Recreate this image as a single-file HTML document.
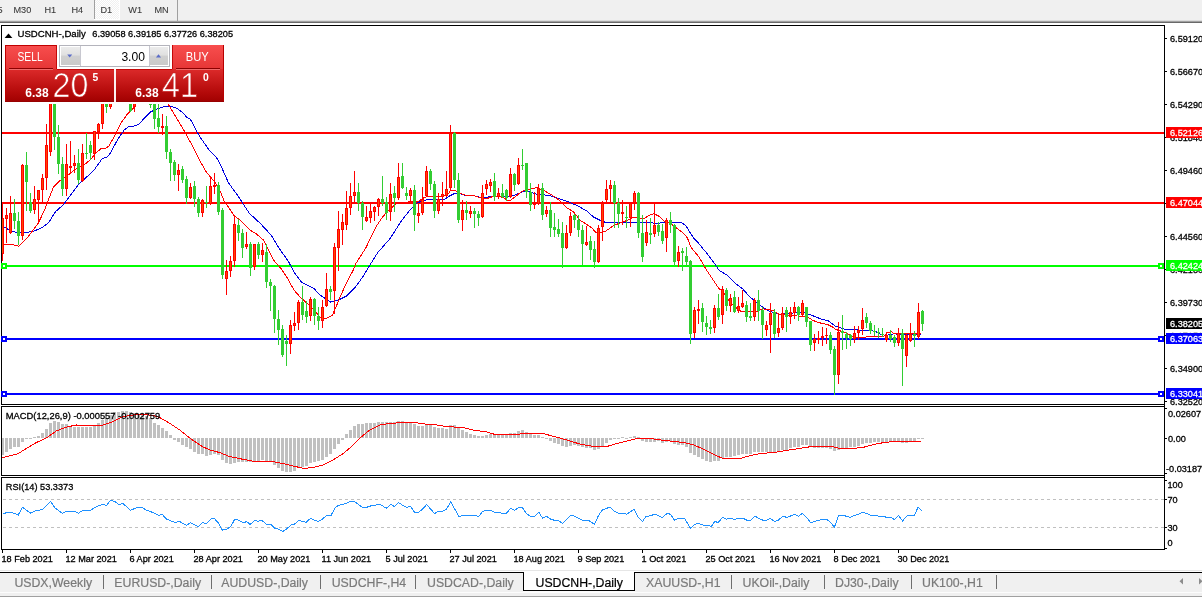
<!DOCTYPE html>
<html><head><meta charset="utf-8"><title>USDCNH-,Daily</title>
<style>
html,body{margin:0;padding:0;background:#fff;}
body{width:1202px;height:597px;overflow:hidden;}
svg{display:block;}
svg text{font-family:"Liberation Sans",sans-serif;white-space:pre;}
</style></head><body>
<svg width="1202" height="597" viewBox="0 0 1202 597" shape-rendering="crispEdges">
<rect x="0" y="0" width="1202" height="20" fill="#f0f0f0"/>
<rect x="0" y="20" width="1202" height="1" fill="#dcdcdc"/>
<rect x="0" y="21" width="1202" height="1" fill="#a0a0a0"/>
<rect x="0" y="22" width="1202" height="1" fill="#696969"/>
<defs><pattern id="ck" width="2" height="2" patternUnits="userSpaceOnUse"><rect width="2" height="2" fill="#f0f0f0"/><rect width="1" height="1" fill="#fff"/><rect x="1" y="1" width="1" height="1" fill="#fff"/></pattern></defs>
<rect x="95" y="0" width="24" height="19" fill="url(#ck)"/>
<rect x="119" y="0" width="1" height="20" fill="#fff"/>
<rect x="94" y="19" width="26" height="1" fill="#fff"/>
<rect x="94" y="0" width="1" height="19" fill="#a0a0a0"/>
<rect x="177" y="0" width="1" height="21" fill="#a0a0a0"/>
<text transform="translate(-2.5,12.8) scale(0.9355,1)" fill="#3a3a3a" font-size="9.8" stroke="#3a3a3a" stroke-width="0.1">5</text>
<text transform="translate(13.5,12.8) scale(0.9355,1)" fill="#3a3a3a" font-size="9.8" stroke="#3a3a3a" stroke-width="0.1">M30</text>
<text transform="translate(44.5,12.8) scale(0.9355,1)" fill="#3a3a3a" font-size="9.8" stroke="#3a3a3a" stroke-width="0.1">H1</text>
<text transform="translate(71.5,12.8) scale(0.9355,1)" fill="#3a3a3a" font-size="9.8" stroke="#3a3a3a" stroke-width="0.1">H4</text>
<text transform="translate(100.5,12.8) scale(0.9355,1)" fill="#3a3a3a" font-size="9.8" stroke="#3a3a3a" stroke-width="0.1">D1</text>
<text transform="translate(128.3,12.8) scale(0.9355,1)" fill="#3a3a3a" font-size="9.8" stroke="#3a3a3a" stroke-width="0.1">W1</text>
<text transform="translate(154.5,12.8) scale(0.9355,1)" fill="#3a3a3a" font-size="9.8" stroke="#3a3a3a" stroke-width="0.1">MN</text>
<defs><clipPath id="cm"><rect x="2" y="26" width="1162" height="378"/></clipPath><clipPath id="c2"><rect x="2" y="407" width="1162" height="68"/></clipPath><clipPath id="c3"><rect x="2" y="478" width="1162" height="71"/></clipPath><linearGradient id="g1" x1="0" y1="0" x2="0" y2="1"><stop offset="0" stop-color="#f84e4e"/><stop offset="1" stop-color="#e63636"/></linearGradient><linearGradient id="g2" x1="0" y1="0" x2="0" y2="1"><stop offset="0" stop-color="#dc2a2a"/><stop offset="0.7" stop-color="#b40a0a"/><stop offset="1" stop-color="#a00000"/></linearGradient><linearGradient id="g3" x1="0" y1="0" x2="0" y2="1"><stop offset="0" stop-color="#ececec"/><stop offset="0.45" stop-color="#e0e0e0"/><stop offset="0.5" stop-color="#d0d0d0"/><stop offset="1" stop-color="#cacaca"/></linearGradient></defs>
<g clip-path="url(#cm)">
<rect x="2" y="132" width="1162" height="2" fill="#ff0000"/>
<rect x="2" y="202" width="1162" height="2" fill="#ff0000"/>
<rect x="2" y="265" width="1162" height="2" fill="#00ff00"/>
<rect x="2" y="338" width="1162" height="2" fill="#0000ff"/>
<rect x="2" y="393" width="1162" height="2" fill="#0000ff"/>
<polyline points="2.5,226.2 8.4,229.5 15.1,232.0 23.5,232.9 33.5,231.2 41.9,227.8 48.6,222.8 55.3,211.9 63.7,204.4 70.4,195.2 78.7,184.3 88.8,175.1 93.8,170.4 102.2,158.6 107.2,157.0 110.6,152.8 117.3,140.2 124.0,130.2 129.0,126.5 134.0,126.0 138.9,124.2 144.7,117.8 150.6,112.0 155.2,109.6 159.9,107.9 164.5,106.4 171.5,106.4 177.4,108.5 183.2,113.1 186.7,117.2 190.2,119.0 192.5,123.0 196.6,131.2 200.0,137.0 209.1,150.0 216.2,157.0 220.2,164.1 224.2,173.1 228.2,182.2 232.3,188.2 238.3,196.2 243.3,204.3 249.5,213.5 260.4,223.5 271.2,235.2 278.8,247.8 288.8,262.0 293.9,272.1 301.4,282.1 314.0,288.4 319.0,294.3 325.7,298.8 330.7,302.2 338.2,300.2 346.6,296.0 355.0,287.6 362.5,277.3 369.2,266.2 377.6,252.8 390.0,238.6 402.0,220.0 410.4,209.6 417.1,202.9 423.8,200.4 430.5,199.2 443.9,199.6 450.6,195.4 454.0,193.7 460.7,193.7 465.7,195.4 474.1,195.9 480.8,197.4 485.8,197.6 489.1,196.7 497.5,196.2 505.9,196.7 514.2,195.4 522.6,191.7 525.0,190.8 530.0,191.9 536.8,194.4 548.5,195.3 558.5,198.6 568.6,202.0 578.6,206.2 587.0,211.2 593.7,217.1 600.4,220.4 605.4,222.4 620.5,222.4 637.3,222.1 650.7,222.1 654.0,223.2 664.1,222.9 670.8,222.1 680.8,222.4 685.8,225.4 689.2,231.3 694.2,238.8 697.3,241.8 705.6,251.8 714.0,262.7 719.0,270.3 727.4,275.3 735.8,283.7 742.5,288.7 749.2,296.2 755.9,302.1 762.6,307.1 769.3,311.3 776.0,313.0 778.8,314.7 787.2,313.5 797.3,312.7 805.6,313.0 812.3,315.5 820.7,318.9 828.5,321.0 835.2,326.0 845.2,329.4 853.6,329.9 868.7,330.2 875.4,331.5 882.1,334.9 887.1,335.2 893.8,333.9 903.9,334.4 915.6,334.9 921.4,333.9" fill="none" stroke="#0000e0" stroke-width="1"/>
<polyline points="2.5,244.6 16.8,245.1 18.4,246.6 28.5,236.2 38.5,222.8 44.4,210.3 48.6,199.4 53.6,186.8 59.5,180.9 67.0,176.0 75.4,169.2 83.8,165.3 90.5,159.5 95.5,153.6 100.5,149.0 105.5,148.6 108.9,146.0 115.6,134.3 120.6,123.4 127.3,114.2 134.0,107.5 135.7,104.2 142.0,98.0 150.0,95.0 160.0,97.0 168.3,104.2 184.3,131.0 194.6,150.0 200.1,161.1 206.1,171.6 210.2,176.6 215.2,182.7 220.2,191.2 224.2,201.3 229.2,208.3 234.4,216.0 240.3,220.2 250.3,230.2 257.0,234.4 263.7,240.3 268.7,250.3 273.8,260.4 280.5,267.9 287.2,277.7 293.9,290.0 300.6,297.6 307.3,303.5 314.0,310.2 320.7,317.7 325.7,318.6 332.4,315.2 337.4,303.5 342.4,291.8 347.5,280.9 353.3,270.0 355.8,263.7 365.9,247.8 375.9,226.9 382.6,216.8 388.6,210.5 397.0,202.9 407.0,202.1 418.8,201.2 423.8,197.9 428.8,196.2 438.9,196.2 447.3,195.4 450.6,190.4 454.0,190.0 459.0,192.9 465.7,195.4 474.1,195.7 480.8,197.9 486.6,198.7 490.8,197.1 497.5,196.2 504.2,197.9 507.5,200.7 510.9,200.1 515.9,196.2 521.0,192.0 526.0,189.5 530.0,189.0 536.8,187.7 545.1,191.1 553.5,196.1 560.2,201.1 566.9,207.8 573.6,212.0 580.3,220.4 587.0,224.6 592.0,227.9 595.4,232.1 600.4,233.0 605.4,231.3 613.8,225.4 620.5,222.9 627.2,220.4 633.9,217.0 638.9,217.9 644.0,218.7 649.0,215.4 654.0,213.7 659.0,216.2 664.1,221.2 670.8,223.8 677.5,228.8 683.3,233.0 687.5,238.0 690.6,246.8 698.9,256.9 705.6,268.6 712.3,278.6 719.0,288.7 722.4,290.4 727.4,298.7 734.1,306.3 740.8,311.3 747.5,311.3 757.6,311.3 762.6,308.8 769.3,309.6 773.8,311.0 778.8,314.3 787.2,315.2 797.3,316.0 807.3,316.5 812.3,320.2 819.0,322.7 827.4,324.4 832.4,326.9 835.8,329.4 840.8,331.1 847.5,333.6 854.2,337.0 859.2,337.8 864.5,337.7 868.7,336.1 883.8,336.1 887.1,332.7 892.1,331.9 893.8,333.6 903.9,333.9 917.3,333.9 921.4,333.6" fill="none" stroke="#ff0000" stroke-width="1"/>
<rect x="2" y="203" width="1" height="58" fill="#ff0000"/>
<rect x="1" y="218" width="3" height="36" fill="#ff0000"/>
<rect x="2" y="219" width="1" height="34" fill="#ff4500"/>
<rect x="6" y="208" width="1" height="35" fill="#ff0000"/>
<rect x="5" y="215" width="3" height="4" fill="#ff0000"/>
<rect x="6" y="216" width="1" height="2" fill="#ff4500"/>
<rect x="10" y="196" width="1" height="38" fill="#ff0000"/>
<rect x="9" y="213" width="3" height="20" fill="#ff0000"/>
<rect x="10" y="214" width="1" height="18" fill="#ff4500"/>
<rect x="14" y="199" width="1" height="30" fill="#32cd32"/>
<rect x="13" y="213" width="3" height="8" fill="#32cd32"/>
<rect x="18" y="212" width="1" height="33" fill="#32cd32"/>
<rect x="17" y="221" width="3" height="15" fill="#32cd32"/>
<rect x="22" y="164" width="1" height="76" fill="#ff0000"/>
<rect x="21" y="165" width="3" height="71" fill="#ff0000"/>
<rect x="22" y="166" width="1" height="69" fill="#ff4500"/>
<rect x="26" y="152" width="1" height="59" fill="#32cd32"/>
<rect x="25" y="165" width="3" height="17" fill="#32cd32"/>
<rect x="30" y="193" width="1" height="20" fill="#32cd32"/>
<rect x="29" y="202" width="3" height="9" fill="#32cd32"/>
<rect x="34" y="186" width="1" height="28" fill="#ff0000"/>
<rect x="33" y="199" width="3" height="11" fill="#ff0000"/>
<rect x="34" y="200" width="1" height="9" fill="#ff4500"/>
<rect x="38" y="190" width="1" height="32" fill="#ff0000"/>
<rect x="37" y="190" width="3" height="10" fill="#ff0000"/>
<rect x="38" y="191" width="1" height="8" fill="#ff4500"/>
<rect x="42" y="174" width="1" height="30" fill="#ff0000"/>
<rect x="41" y="178" width="3" height="12" fill="#ff0000"/>
<rect x="42" y="179" width="1" height="10" fill="#ff4500"/>
<rect x="46" y="124" width="1" height="66" fill="#ff0000"/>
<rect x="45" y="145" width="3" height="33" fill="#ff0000"/>
<rect x="46" y="146" width="1" height="31" fill="#ff4500"/>
<rect x="50" y="85" width="1" height="71" fill="#ff0000"/>
<rect x="49" y="90" width="3" height="62" fill="#ff0000"/>
<rect x="50" y="91" width="1" height="60" fill="#ff4500"/>
<rect x="54" y="85" width="1" height="65" fill="#32cd32"/>
<rect x="53" y="90" width="3" height="47" fill="#32cd32"/>
<rect x="58" y="125" width="1" height="49" fill="#32cd32"/>
<rect x="57" y="137" width="3" height="27" fill="#32cd32"/>
<rect x="62" y="157" width="1" height="39" fill="#32cd32"/>
<rect x="61" y="164" width="3" height="25" fill="#32cd32"/>
<rect x="66" y="144" width="1" height="52" fill="#ff0000"/>
<rect x="65" y="164" width="3" height="25" fill="#ff0000"/>
<rect x="66" y="165" width="1" height="23" fill="#ff4500"/>
<rect x="70" y="141" width="1" height="32" fill="#ff0000"/>
<rect x="69" y="166" width="3" height="2" fill="#ff0000"/>
<rect x="74" y="155" width="1" height="18" fill="#ff0000"/>
<rect x="73" y="163" width="3" height="3" fill="#ff0000"/>
<rect x="74" y="164" width="1" height="1" fill="#ff4500"/>
<rect x="78" y="149" width="1" height="35" fill="#32cd32"/>
<rect x="77" y="163" width="3" height="17" fill="#32cd32"/>
<rect x="82" y="144" width="1" height="38" fill="#ff0000"/>
<rect x="81" y="153" width="3" height="28" fill="#ff0000"/>
<rect x="82" y="154" width="1" height="26" fill="#ff4500"/>
<rect x="86" y="133" width="1" height="26" fill="#32cd32"/>
<rect x="85" y="153" width="3" height="1" fill="#32cd32"/>
<rect x="90" y="141" width="1" height="19" fill="#32cd32"/>
<rect x="89" y="145" width="3" height="8" fill="#32cd32"/>
<rect x="94" y="131" width="1" height="29" fill="#ff0000"/>
<rect x="93" y="131" width="3" height="23" fill="#ff0000"/>
<rect x="94" y="132" width="1" height="21" fill="#ff4500"/>
<rect x="98" y="123" width="1" height="16" fill="#ff0000"/>
<rect x="97" y="124" width="3" height="8" fill="#ff0000"/>
<rect x="98" y="125" width="1" height="6" fill="#ff4500"/>
<rect x="102" y="95" width="1" height="34" fill="#ff0000"/>
<rect x="101" y="98" width="3" height="26" fill="#ff0000"/>
<rect x="102" y="99" width="1" height="24" fill="#ff4500"/>
<rect x="106" y="90" width="1" height="23" fill="#32cd32"/>
<rect x="105" y="98" width="3" height="9" fill="#32cd32"/>
<rect x="110" y="95" width="1" height="14" fill="#ff0000"/>
<rect x="109" y="100" width="3" height="7" fill="#ff0000"/>
<rect x="110" y="101" width="1" height="5" fill="#ff4500"/>
<rect x="114" y="80" width="1" height="20" fill="#ff0000"/>
<rect x="113" y="85" width="3" height="13" fill="#ff0000"/>
<rect x="114" y="86" width="1" height="11" fill="#ff4500"/>
<rect x="118" y="78" width="1" height="21" fill="#32cd32"/>
<rect x="117" y="82" width="3" height="13" fill="#32cd32"/>
<rect x="122" y="75" width="1" height="22" fill="#ff0000"/>
<rect x="121" y="80" width="3" height="12" fill="#ff0000"/>
<rect x="122" y="81" width="1" height="10" fill="#ff4500"/>
<rect x="126" y="76" width="1" height="23" fill="#32cd32"/>
<rect x="125" y="80" width="3" height="14" fill="#32cd32"/>
<rect x="130" y="80" width="1" height="32" fill="#32cd32"/>
<rect x="129" y="85" width="3" height="26" fill="#32cd32"/>
<rect x="134" y="90" width="1" height="22" fill="#ff0000"/>
<rect x="133" y="95" width="3" height="12" fill="#ff0000"/>
<rect x="134" y="96" width="1" height="10" fill="#ff4500"/>
<rect x="138" y="82" width="1" height="18" fill="#32cd32"/>
<rect x="137" y="88" width="3" height="9" fill="#32cd32"/>
<rect x="142" y="80" width="1" height="19" fill="#ff0000"/>
<rect x="141" y="84" width="3" height="11" fill="#ff0000"/>
<rect x="142" y="85" width="1" height="9" fill="#ff4500"/>
<rect x="146" y="80" width="1" height="20" fill="#32cd32"/>
<rect x="145" y="86" width="3" height="12" fill="#32cd32"/>
<rect x="150" y="95" width="1" height="13" fill="#32cd32"/>
<rect x="149" y="103" width="3" height="2" fill="#32cd32"/>
<rect x="154" y="90" width="1" height="39" fill="#32cd32"/>
<rect x="153" y="95" width="3" height="24" fill="#32cd32"/>
<rect x="158" y="104" width="1" height="29" fill="#32cd32"/>
<rect x="157" y="118" width="3" height="9" fill="#32cd32"/>
<rect x="162" y="114" width="1" height="21" fill="#ff0000"/>
<rect x="161" y="126" width="3" height="2" fill="#ff0000"/>
<rect x="166" y="116" width="1" height="43" fill="#32cd32"/>
<rect x="165" y="126" width="3" height="26" fill="#32cd32"/>
<rect x="170" y="149" width="1" height="32" fill="#32cd32"/>
<rect x="169" y="152" width="3" height="11" fill="#32cd32"/>
<rect x="174" y="160" width="1" height="21" fill="#32cd32"/>
<rect x="173" y="162" width="3" height="13" fill="#32cd32"/>
<rect x="178" y="164" width="1" height="27" fill="#ff0000"/>
<rect x="177" y="170" width="3" height="5" fill="#ff0000"/>
<rect x="178" y="171" width="1" height="3" fill="#ff4500"/>
<rect x="182" y="166" width="1" height="17" fill="#32cd32"/>
<rect x="181" y="169" width="3" height="11" fill="#32cd32"/>
<rect x="186" y="176" width="1" height="28" fill="#32cd32"/>
<rect x="185" y="179" width="3" height="19" fill="#32cd32"/>
<rect x="190" y="183" width="1" height="16" fill="#ff0000"/>
<rect x="189" y="187" width="3" height="11" fill="#ff0000"/>
<rect x="190" y="188" width="1" height="9" fill="#ff4500"/>
<rect x="194" y="181" width="1" height="26" fill="#32cd32"/>
<rect x="193" y="186" width="3" height="13" fill="#32cd32"/>
<rect x="198" y="197" width="1" height="20" fill="#32cd32"/>
<rect x="197" y="199" width="3" height="14" fill="#32cd32"/>
<rect x="202" y="199" width="1" height="18" fill="#ff0000"/>
<rect x="201" y="200" width="3" height="13" fill="#ff0000"/>
<rect x="202" y="201" width="1" height="11" fill="#ff4500"/>
<rect x="206" y="186" width="1" height="22" fill="#32cd32"/>
<rect x="205" y="202" width="3" height="1" fill="#32cd32"/>
<rect x="210" y="176" width="1" height="29" fill="#ff0000"/>
<rect x="209" y="186" width="3" height="18" fill="#ff0000"/>
<rect x="210" y="187" width="1" height="16" fill="#ff4500"/>
<rect x="214" y="173" width="1" height="21" fill="#ff0000"/>
<rect x="213" y="185" width="3" height="2" fill="#ff0000"/>
<rect x="218" y="182" width="1" height="33" fill="#32cd32"/>
<rect x="217" y="185" width="3" height="27" fill="#32cd32"/>
<rect x="222" y="208" width="1" height="71" fill="#32cd32"/>
<rect x="221" y="210" width="3" height="65" fill="#32cd32"/>
<rect x="226" y="260" width="1" height="35" fill="#ff0000"/>
<rect x="225" y="271" width="3" height="8" fill="#ff0000"/>
<rect x="226" y="272" width="1" height="6" fill="#ff4500"/>
<rect x="230" y="256" width="1" height="21" fill="#ff0000"/>
<rect x="229" y="261" width="3" height="10" fill="#ff0000"/>
<rect x="230" y="262" width="1" height="8" fill="#ff4500"/>
<rect x="234" y="216" width="1" height="51" fill="#ff0000"/>
<rect x="233" y="224" width="3" height="37" fill="#ff0000"/>
<rect x="234" y="225" width="1" height="35" fill="#ff4500"/>
<rect x="238" y="219" width="1" height="22" fill="#32cd32"/>
<rect x="237" y="225" width="3" height="8" fill="#32cd32"/>
<rect x="242" y="229" width="1" height="29" fill="#32cd32"/>
<rect x="241" y="233" width="3" height="15" fill="#32cd32"/>
<rect x="246" y="232" width="1" height="17" fill="#ff0000"/>
<rect x="245" y="244" width="3" height="3" fill="#ff0000"/>
<rect x="246" y="245" width="1" height="1" fill="#ff4500"/>
<rect x="250" y="242" width="1" height="34" fill="#32cd32"/>
<rect x="249" y="244" width="3" height="24" fill="#32cd32"/>
<rect x="254" y="244" width="1" height="26" fill="#ff0000"/>
<rect x="253" y="244" width="3" height="23" fill="#ff0000"/>
<rect x="254" y="245" width="1" height="21" fill="#ff4500"/>
<rect x="258" y="242" width="1" height="17" fill="#32cd32"/>
<rect x="257" y="244" width="3" height="11" fill="#32cd32"/>
<rect x="262" y="243" width="1" height="19" fill="#ff0000"/>
<rect x="261" y="250" width="3" height="5" fill="#ff0000"/>
<rect x="262" y="251" width="1" height="3" fill="#ff4500"/>
<rect x="266" y="244" width="1" height="44" fill="#32cd32"/>
<rect x="265" y="252" width="3" height="30" fill="#32cd32"/>
<rect x="270" y="279" width="1" height="32" fill="#32cd32"/>
<rect x="269" y="282" width="3" height="4" fill="#32cd32"/>
<rect x="274" y="285" width="1" height="48" fill="#32cd32"/>
<rect x="273" y="286" width="3" height="33" fill="#32cd32"/>
<rect x="278" y="310" width="1" height="35" fill="#32cd32"/>
<rect x="277" y="319" width="3" height="11" fill="#32cd32"/>
<rect x="282" y="325" width="1" height="32" fill="#32cd32"/>
<rect x="281" y="329" width="3" height="26" fill="#32cd32"/>
<rect x="286" y="335" width="1" height="31" fill="#32cd32"/>
<rect x="285" y="341" width="3" height="3" fill="#32cd32"/>
<rect x="290" y="320" width="1" height="34" fill="#ff0000"/>
<rect x="289" y="325" width="3" height="19" fill="#ff0000"/>
<rect x="290" y="326" width="1" height="17" fill="#ff4500"/>
<rect x="294" y="312" width="1" height="19" fill="#ff0000"/>
<rect x="293" y="323" width="3" height="3" fill="#ff0000"/>
<rect x="294" y="324" width="1" height="1" fill="#ff4500"/>
<rect x="298" y="300" width="1" height="30" fill="#ff0000"/>
<rect x="297" y="302" width="3" height="21" fill="#ff0000"/>
<rect x="298" y="303" width="1" height="19" fill="#ff4500"/>
<rect x="302" y="286" width="1" height="34" fill="#32cd32"/>
<rect x="301" y="302" width="3" height="13" fill="#32cd32"/>
<rect x="306" y="301" width="1" height="22" fill="#32cd32"/>
<rect x="305" y="311" width="3" height="6" fill="#32cd32"/>
<rect x="310" y="297" width="1" height="24" fill="#ff0000"/>
<rect x="309" y="299" width="3" height="17" fill="#ff0000"/>
<rect x="310" y="300" width="1" height="15" fill="#ff4500"/>
<rect x="314" y="298" width="1" height="27" fill="#32cd32"/>
<rect x="313" y="299" width="3" height="17" fill="#32cd32"/>
<rect x="318" y="307" width="1" height="23" fill="#32cd32"/>
<rect x="317" y="316" width="3" height="5" fill="#32cd32"/>
<rect x="322" y="300" width="1" height="28" fill="#ff0000"/>
<rect x="321" y="307" width="3" height="14" fill="#ff0000"/>
<rect x="322" y="308" width="1" height="12" fill="#ff4500"/>
<rect x="326" y="273" width="1" height="34" fill="#ff0000"/>
<rect x="325" y="289" width="3" height="17" fill="#ff0000"/>
<rect x="326" y="290" width="1" height="15" fill="#ff4500"/>
<rect x="330" y="286" width="1" height="14" fill="#32cd32"/>
<rect x="329" y="289" width="3" height="3" fill="#32cd32"/>
<rect x="334" y="243" width="1" height="71" fill="#ff0000"/>
<rect x="333" y="247" width="3" height="44" fill="#ff0000"/>
<rect x="334" y="248" width="1" height="42" fill="#ff4500"/>
<rect x="338" y="211" width="1" height="60" fill="#ff0000"/>
<rect x="337" y="229" width="3" height="19" fill="#ff0000"/>
<rect x="338" y="230" width="1" height="17" fill="#ff4500"/>
<rect x="342" y="214" width="1" height="31" fill="#ff0000"/>
<rect x="341" y="222" width="3" height="8" fill="#ff0000"/>
<rect x="342" y="223" width="1" height="6" fill="#ff4500"/>
<rect x="346" y="191" width="1" height="39" fill="#ff0000"/>
<rect x="345" y="208" width="3" height="17" fill="#ff0000"/>
<rect x="346" y="209" width="1" height="15" fill="#ff4500"/>
<rect x="350" y="183" width="1" height="32" fill="#ff0000"/>
<rect x="349" y="196" width="3" height="12" fill="#ff0000"/>
<rect x="350" y="197" width="1" height="10" fill="#ff4500"/>
<rect x="354" y="171" width="1" height="32" fill="#ff0000"/>
<rect x="353" y="192" width="3" height="4" fill="#ff0000"/>
<rect x="354" y="193" width="1" height="2" fill="#ff4500"/>
<rect x="358" y="183" width="1" height="28" fill="#32cd32"/>
<rect x="357" y="192" width="3" height="11" fill="#32cd32"/>
<rect x="362" y="201" width="1" height="29" fill="#32cd32"/>
<rect x="361" y="203" width="3" height="14" fill="#32cd32"/>
<rect x="366" y="206" width="1" height="16" fill="#ff0000"/>
<rect x="365" y="217" width="3" height="4" fill="#ff0000"/>
<rect x="366" y="218" width="1" height="2" fill="#ff4500"/>
<rect x="370" y="204" width="1" height="19" fill="#ff0000"/>
<rect x="369" y="211" width="3" height="7" fill="#ff0000"/>
<rect x="370" y="212" width="1" height="5" fill="#ff4500"/>
<rect x="374" y="206" width="1" height="15" fill="#ff0000"/>
<rect x="373" y="207" width="3" height="5" fill="#ff0000"/>
<rect x="374" y="208" width="1" height="3" fill="#ff4500"/>
<rect x="378" y="198" width="1" height="18" fill="#ff0000"/>
<rect x="377" y="199" width="3" height="8" fill="#ff0000"/>
<rect x="378" y="200" width="1" height="6" fill="#ff4500"/>
<rect x="382" y="176" width="1" height="30" fill="#32cd32"/>
<rect x="381" y="199" width="3" height="4" fill="#32cd32"/>
<rect x="386" y="197" width="1" height="23" fill="#32cd32"/>
<rect x="385" y="202" width="3" height="11" fill="#32cd32"/>
<rect x="390" y="183" width="1" height="38" fill="#ff0000"/>
<rect x="389" y="194" width="3" height="18" fill="#ff0000"/>
<rect x="390" y="195" width="1" height="16" fill="#ff4500"/>
<rect x="394" y="186" width="1" height="26" fill="#32cd32"/>
<rect x="393" y="193" width="3" height="5" fill="#32cd32"/>
<rect x="398" y="163" width="1" height="37" fill="#ff0000"/>
<rect x="397" y="177" width="3" height="21" fill="#ff0000"/>
<rect x="398" y="178" width="1" height="19" fill="#ff4500"/>
<rect x="402" y="163" width="1" height="26" fill="#32cd32"/>
<rect x="401" y="176" width="3" height="12" fill="#32cd32"/>
<rect x="406" y="187" width="1" height="13" fill="#32cd32"/>
<rect x="405" y="193" width="3" height="3" fill="#32cd32"/>
<rect x="410" y="188" width="1" height="16" fill="#ff0000"/>
<rect x="409" y="190" width="3" height="6" fill="#ff0000"/>
<rect x="410" y="191" width="1" height="4" fill="#ff4500"/>
<rect x="414" y="185" width="1" height="46" fill="#32cd32"/>
<rect x="413" y="190" width="3" height="25" fill="#32cd32"/>
<rect x="418" y="204" width="1" height="19" fill="#ff0000"/>
<rect x="417" y="213" width="3" height="3" fill="#ff0000"/>
<rect x="418" y="214" width="1" height="1" fill="#ff4500"/>
<rect x="422" y="187" width="1" height="28" fill="#ff0000"/>
<rect x="421" y="199" width="3" height="14" fill="#ff0000"/>
<rect x="422" y="200" width="1" height="12" fill="#ff4500"/>
<rect x="426" y="166" width="1" height="31" fill="#ff0000"/>
<rect x="425" y="171" width="3" height="25" fill="#ff0000"/>
<rect x="426" y="172" width="1" height="23" fill="#ff4500"/>
<rect x="430" y="169" width="1" height="21" fill="#32cd32"/>
<rect x="429" y="171" width="3" height="13" fill="#32cd32"/>
<rect x="434" y="181" width="1" height="37" fill="#32cd32"/>
<rect x="433" y="184" width="3" height="27" fill="#32cd32"/>
<rect x="438" y="193" width="1" height="21" fill="#ff0000"/>
<rect x="437" y="199" width="3" height="12" fill="#ff0000"/>
<rect x="438" y="200" width="1" height="10" fill="#ff4500"/>
<rect x="442" y="182" width="1" height="24" fill="#ff0000"/>
<rect x="441" y="194" width="3" height="3" fill="#ff0000"/>
<rect x="442" y="195" width="1" height="1" fill="#ff4500"/>
<rect x="446" y="171" width="1" height="26" fill="#ff0000"/>
<rect x="445" y="189" width="3" height="7" fill="#ff0000"/>
<rect x="446" y="190" width="1" height="5" fill="#ff4500"/>
<rect x="450" y="125" width="1" height="65" fill="#ff0000"/>
<rect x="449" y="133" width="3" height="55" fill="#ff0000"/>
<rect x="450" y="134" width="1" height="53" fill="#ff4500"/>
<rect x="454" y="132" width="1" height="56" fill="#32cd32"/>
<rect x="453" y="133" width="3" height="47" fill="#32cd32"/>
<rect x="458" y="173" width="1" height="50" fill="#32cd32"/>
<rect x="457" y="180" width="3" height="40" fill="#32cd32"/>
<rect x="462" y="200" width="1" height="31" fill="#ff0000"/>
<rect x="461" y="210" width="3" height="10" fill="#ff0000"/>
<rect x="462" y="211" width="1" height="8" fill="#ff4500"/>
<rect x="466" y="201" width="1" height="19" fill="#32cd32"/>
<rect x="465" y="210" width="3" height="3" fill="#32cd32"/>
<rect x="470" y="206" width="1" height="12" fill="#ff0000"/>
<rect x="469" y="211" width="3" height="3" fill="#ff0000"/>
<rect x="470" y="212" width="1" height="1" fill="#ff4500"/>
<rect x="474" y="208" width="1" height="20" fill="#32cd32"/>
<rect x="473" y="211" width="3" height="3" fill="#32cd32"/>
<rect x="478" y="211" width="1" height="15" fill="#32cd32"/>
<rect x="477" y="214" width="3" height="4" fill="#32cd32"/>
<rect x="482" y="185" width="1" height="33" fill="#ff0000"/>
<rect x="481" y="193" width="3" height="24" fill="#ff0000"/>
<rect x="482" y="194" width="1" height="22" fill="#ff4500"/>
<rect x="486" y="180" width="1" height="15" fill="#ff0000"/>
<rect x="485" y="184" width="3" height="5" fill="#ff0000"/>
<rect x="486" y="185" width="1" height="3" fill="#ff4500"/>
<rect x="490" y="179" width="1" height="13" fill="#ff0000"/>
<rect x="489" y="182" width="3" height="4" fill="#ff0000"/>
<rect x="490" y="183" width="1" height="2" fill="#ff4500"/>
<rect x="494" y="173" width="1" height="28" fill="#32cd32"/>
<rect x="493" y="181" width="3" height="16" fill="#32cd32"/>
<rect x="498" y="188" width="1" height="11" fill="#ff0000"/>
<rect x="497" y="193" width="3" height="4" fill="#ff0000"/>
<rect x="498" y="194" width="1" height="2" fill="#ff4500"/>
<rect x="502" y="184" width="1" height="14" fill="#32cd32"/>
<rect x="501" y="193" width="3" height="4" fill="#32cd32"/>
<rect x="506" y="189" width="1" height="12" fill="#32cd32"/>
<rect x="505" y="190" width="3" height="8" fill="#32cd32"/>
<rect x="510" y="168" width="1" height="30" fill="#ff0000"/>
<rect x="509" y="174" width="3" height="23" fill="#ff0000"/>
<rect x="510" y="175" width="1" height="21" fill="#ff4500"/>
<rect x="514" y="173" width="1" height="18" fill="#32cd32"/>
<rect x="513" y="174" width="3" height="11" fill="#32cd32"/>
<rect x="518" y="158" width="1" height="27" fill="#ff0000"/>
<rect x="517" y="165" width="3" height="19" fill="#ff0000"/>
<rect x="518" y="166" width="1" height="17" fill="#ff4500"/>
<rect x="522" y="149" width="1" height="21" fill="#32cd32"/>
<rect x="521" y="165" width="3" height="1" fill="#32cd32"/>
<rect x="526" y="163" width="1" height="35" fill="#32cd32"/>
<rect x="525" y="163" width="3" height="29" fill="#32cd32"/>
<rect x="530" y="183" width="1" height="28" fill="#32cd32"/>
<rect x="529" y="192" width="3" height="13" fill="#32cd32"/>
<rect x="534" y="192" width="1" height="17" fill="#ff0000"/>
<rect x="533" y="203" width="3" height="2" fill="#ff0000"/>
<rect x="538" y="184" width="1" height="21" fill="#ff0000"/>
<rect x="537" y="188" width="3" height="16" fill="#ff0000"/>
<rect x="538" y="189" width="1" height="14" fill="#ff4500"/>
<rect x="542" y="183" width="1" height="37" fill="#32cd32"/>
<rect x="541" y="188" width="3" height="27" fill="#32cd32"/>
<rect x="546" y="206" width="1" height="11" fill="#ff0000"/>
<rect x="545" y="210" width="3" height="4" fill="#ff0000"/>
<rect x="546" y="211" width="1" height="2" fill="#ff4500"/>
<rect x="550" y="202" width="1" height="35" fill="#32cd32"/>
<rect x="549" y="210" width="3" height="18" fill="#32cd32"/>
<rect x="554" y="213" width="1" height="24" fill="#32cd32"/>
<rect x="553" y="227" width="3" height="3" fill="#32cd32"/>
<rect x="558" y="219" width="1" height="18" fill="#32cd32"/>
<rect x="557" y="229" width="3" height="5" fill="#32cd32"/>
<rect x="562" y="222" width="1" height="46" fill="#32cd32"/>
<rect x="561" y="233" width="3" height="15" fill="#32cd32"/>
<rect x="566" y="225" width="1" height="24" fill="#ff0000"/>
<rect x="565" y="233" width="3" height="15" fill="#ff0000"/>
<rect x="566" y="234" width="1" height="13" fill="#ff4500"/>
<rect x="570" y="212" width="1" height="24" fill="#ff0000"/>
<rect x="569" y="216" width="3" height="17" fill="#ff0000"/>
<rect x="570" y="217" width="1" height="15" fill="#ff4500"/>
<rect x="574" y="214" width="1" height="14" fill="#32cd32"/>
<rect x="573" y="215" width="3" height="5" fill="#32cd32"/>
<rect x="578" y="215" width="1" height="22" fill="#32cd32"/>
<rect x="577" y="220" width="3" height="10" fill="#32cd32"/>
<rect x="582" y="225" width="1" height="40" fill="#32cd32"/>
<rect x="581" y="230" width="3" height="14" fill="#32cd32"/>
<rect x="586" y="226" width="1" height="20" fill="#ff0000"/>
<rect x="585" y="242" width="3" height="3" fill="#ff0000"/>
<rect x="586" y="243" width="1" height="1" fill="#ff4500"/>
<rect x="590" y="236" width="1" height="24" fill="#32cd32"/>
<rect x="589" y="241" width="3" height="9" fill="#32cd32"/>
<rect x="594" y="241" width="1" height="27" fill="#32cd32"/>
<rect x="593" y="249" width="3" height="13" fill="#32cd32"/>
<rect x="598" y="225" width="1" height="38" fill="#ff0000"/>
<rect x="597" y="228" width="3" height="34" fill="#ff0000"/>
<rect x="598" y="229" width="1" height="32" fill="#ff4500"/>
<rect x="602" y="201" width="1" height="40" fill="#ff0000"/>
<rect x="601" y="203" width="3" height="24" fill="#ff0000"/>
<rect x="602" y="204" width="1" height="22" fill="#ff4500"/>
<rect x="606" y="180" width="1" height="24" fill="#ff0000"/>
<rect x="605" y="189" width="3" height="11" fill="#ff0000"/>
<rect x="606" y="190" width="1" height="9" fill="#ff4500"/>
<rect x="610" y="180" width="1" height="23" fill="#ff0000"/>
<rect x="609" y="185" width="3" height="4" fill="#ff0000"/>
<rect x="610" y="186" width="1" height="2" fill="#ff4500"/>
<rect x="614" y="181" width="1" height="47" fill="#32cd32"/>
<rect x="613" y="185" width="3" height="18" fill="#32cd32"/>
<rect x="618" y="198" width="1" height="30" fill="#32cd32"/>
<rect x="617" y="203" width="3" height="11" fill="#32cd32"/>
<rect x="622" y="200" width="1" height="25" fill="#ff0000"/>
<rect x="621" y="212" width="3" height="2" fill="#ff0000"/>
<rect x="626" y="206" width="1" height="22" fill="#32cd32"/>
<rect x="625" y="217" width="3" height="1" fill="#32cd32"/>
<rect x="630" y="202" width="1" height="25" fill="#ff0000"/>
<rect x="629" y="203" width="3" height="15" fill="#ff0000"/>
<rect x="630" y="204" width="1" height="13" fill="#ff4500"/>
<rect x="634" y="191" width="1" height="19" fill="#ff0000"/>
<rect x="633" y="193" width="3" height="10" fill="#ff0000"/>
<rect x="634" y="194" width="1" height="8" fill="#ff4500"/>
<rect x="638" y="192" width="1" height="46" fill="#32cd32"/>
<rect x="637" y="193" width="3" height="40" fill="#32cd32"/>
<rect x="642" y="215" width="1" height="47" fill="#32cd32"/>
<rect x="641" y="233" width="3" height="24" fill="#32cd32"/>
<rect x="646" y="220" width="1" height="26" fill="#ff0000"/>
<rect x="645" y="232" width="3" height="11" fill="#ff0000"/>
<rect x="646" y="233" width="1" height="9" fill="#ff4500"/>
<rect x="650" y="218" width="1" height="26" fill="#32cd32"/>
<rect x="649" y="233" width="3" height="2" fill="#32cd32"/>
<rect x="654" y="203" width="1" height="34" fill="#ff0000"/>
<rect x="653" y="225" width="3" height="9" fill="#ff0000"/>
<rect x="654" y="226" width="1" height="7" fill="#ff4500"/>
<rect x="658" y="222" width="1" height="14" fill="#32cd32"/>
<rect x="657" y="225" width="3" height="7" fill="#32cd32"/>
<rect x="662" y="224" width="1" height="20" fill="#32cd32"/>
<rect x="661" y="231" width="3" height="10" fill="#32cd32"/>
<rect x="666" y="218" width="1" height="34" fill="#ff0000"/>
<rect x="665" y="220" width="3" height="18" fill="#ff0000"/>
<rect x="666" y="221" width="1" height="16" fill="#ff4500"/>
<rect x="670" y="212" width="1" height="21" fill="#32cd32"/>
<rect x="669" y="220" width="3" height="5" fill="#32cd32"/>
<rect x="674" y="224" width="1" height="42" fill="#32cd32"/>
<rect x="673" y="225" width="3" height="37" fill="#32cd32"/>
<rect x="678" y="246" width="1" height="21" fill="#ff0000"/>
<rect x="677" y="252" width="3" height="9" fill="#ff0000"/>
<rect x="678" y="253" width="1" height="7" fill="#ff4500"/>
<rect x="682" y="248" width="1" height="23" fill="#32cd32"/>
<rect x="681" y="251" width="3" height="2" fill="#32cd32"/>
<rect x="686" y="247" width="1" height="19" fill="#32cd32"/>
<rect x="685" y="256" width="3" height="6" fill="#32cd32"/>
<rect x="690" y="260" width="1" height="84" fill="#32cd32"/>
<rect x="689" y="261" width="3" height="73" fill="#32cd32"/>
<rect x="694" y="307" width="1" height="31" fill="#ff0000"/>
<rect x="693" y="310" width="3" height="23" fill="#ff0000"/>
<rect x="694" y="311" width="1" height="21" fill="#ff4500"/>
<rect x="698" y="300" width="1" height="24" fill="#ff0000"/>
<rect x="697" y="309" width="3" height="2" fill="#ff0000"/>
<rect x="702" y="303" width="1" height="29" fill="#32cd32"/>
<rect x="701" y="308" width="3" height="14" fill="#32cd32"/>
<rect x="706" y="316" width="1" height="19" fill="#32cd32"/>
<rect x="705" y="323" width="3" height="4" fill="#32cd32"/>
<rect x="710" y="320" width="1" height="14" fill="#32cd32"/>
<rect x="709" y="327" width="3" height="2" fill="#32cd32"/>
<rect x="714" y="305" width="1" height="28" fill="#ff0000"/>
<rect x="713" y="308" width="3" height="20" fill="#ff0000"/>
<rect x="714" y="309" width="1" height="18" fill="#ff4500"/>
<rect x="718" y="294" width="1" height="26" fill="#32cd32"/>
<rect x="717" y="308" width="3" height="9" fill="#32cd32"/>
<rect x="722" y="286" width="1" height="38" fill="#ff0000"/>
<rect x="721" y="289" width="3" height="26" fill="#ff0000"/>
<rect x="722" y="290" width="1" height="24" fill="#ff4500"/>
<rect x="726" y="288" width="1" height="23" fill="#32cd32"/>
<rect x="725" y="290" width="3" height="16" fill="#32cd32"/>
<rect x="730" y="294" width="1" height="18" fill="#ff0000"/>
<rect x="729" y="298" width="3" height="8" fill="#ff0000"/>
<rect x="730" y="299" width="1" height="6" fill="#ff4500"/>
<rect x="734" y="291" width="1" height="22" fill="#32cd32"/>
<rect x="733" y="297" width="3" height="15" fill="#32cd32"/>
<rect x="738" y="297" width="1" height="16" fill="#ff0000"/>
<rect x="737" y="306" width="3" height="5" fill="#ff0000"/>
<rect x="738" y="307" width="1" height="3" fill="#ff4500"/>
<rect x="742" y="290" width="1" height="18" fill="#ff0000"/>
<rect x="741" y="303" width="3" height="4" fill="#ff0000"/>
<rect x="742" y="304" width="1" height="2" fill="#ff4500"/>
<rect x="746" y="301" width="1" height="21" fill="#32cd32"/>
<rect x="745" y="305" width="3" height="12" fill="#32cd32"/>
<rect x="750" y="303" width="1" height="18" fill="#32cd32"/>
<rect x="749" y="316" width="3" height="2" fill="#32cd32"/>
<rect x="754" y="298" width="1" height="23" fill="#ff0000"/>
<rect x="753" y="300" width="3" height="17" fill="#ff0000"/>
<rect x="754" y="301" width="1" height="15" fill="#ff4500"/>
<rect x="758" y="290" width="1" height="31" fill="#32cd32"/>
<rect x="757" y="300" width="3" height="11" fill="#32cd32"/>
<rect x="762" y="307" width="1" height="32" fill="#32cd32"/>
<rect x="761" y="310" width="3" height="15" fill="#32cd32"/>
<rect x="766" y="321" width="1" height="15" fill="#ff0000"/>
<rect x="765" y="325" width="3" height="5" fill="#ff0000"/>
<rect x="766" y="326" width="1" height="3" fill="#ff4500"/>
<rect x="770" y="303" width="1" height="50" fill="#ff0000"/>
<rect x="769" y="313" width="3" height="12" fill="#ff0000"/>
<rect x="770" y="314" width="1" height="10" fill="#ff4500"/>
<rect x="774" y="309" width="1" height="29" fill="#32cd32"/>
<rect x="773" y="312" width="3" height="22" fill="#32cd32"/>
<rect x="778" y="313" width="1" height="24" fill="#ff0000"/>
<rect x="777" y="328" width="3" height="5" fill="#ff0000"/>
<rect x="778" y="329" width="1" height="3" fill="#ff4500"/>
<rect x="782" y="307" width="1" height="23" fill="#ff0000"/>
<rect x="781" y="313" width="3" height="15" fill="#ff0000"/>
<rect x="782" y="314" width="1" height="13" fill="#ff4500"/>
<rect x="786" y="307" width="1" height="25" fill="#32cd32"/>
<rect x="785" y="310" width="3" height="7" fill="#32cd32"/>
<rect x="790" y="307" width="1" height="17" fill="#ff0000"/>
<rect x="789" y="312" width="3" height="5" fill="#ff0000"/>
<rect x="790" y="313" width="1" height="3" fill="#ff4500"/>
<rect x="794" y="302" width="1" height="17" fill="#ff0000"/>
<rect x="793" y="307" width="3" height="6" fill="#ff0000"/>
<rect x="794" y="308" width="1" height="4" fill="#ff4500"/>
<rect x="798" y="306" width="1" height="15" fill="#32cd32"/>
<rect x="797" y="307" width="3" height="8" fill="#32cd32"/>
<rect x="802" y="300" width="1" height="16" fill="#ff0000"/>
<rect x="801" y="303" width="3" height="12" fill="#ff0000"/>
<rect x="802" y="304" width="1" height="10" fill="#ff4500"/>
<rect x="806" y="307" width="1" height="20" fill="#32cd32"/>
<rect x="805" y="307" width="3" height="15" fill="#32cd32"/>
<rect x="810" y="321" width="1" height="30" fill="#32cd32"/>
<rect x="809" y="321" width="3" height="24" fill="#32cd32"/>
<rect x="814" y="334" width="1" height="17" fill="#ff0000"/>
<rect x="813" y="339" width="3" height="4" fill="#ff0000"/>
<rect x="814" y="340" width="1" height="2" fill="#ff4500"/>
<rect x="818" y="331" width="1" height="13" fill="#ff0000"/>
<rect x="817" y="338" width="3" height="2" fill="#ff0000"/>
<rect x="822" y="327" width="1" height="19" fill="#ff0000"/>
<rect x="821" y="336" width="3" height="2" fill="#ff0000"/>
<rect x="826" y="328" width="1" height="16" fill="#ff0000"/>
<rect x="825" y="335" width="3" height="1" fill="#ff0000"/>
<rect x="830" y="332" width="1" height="22" fill="#32cd32"/>
<rect x="829" y="335" width="3" height="15" fill="#32cd32"/>
<rect x="834" y="346" width="1" height="49" fill="#32cd32"/>
<rect x="833" y="349" width="3" height="26" fill="#32cd32"/>
<rect x="838" y="322" width="1" height="62" fill="#ff0000"/>
<rect x="837" y="332" width="3" height="43" fill="#ff0000"/>
<rect x="838" y="333" width="1" height="41" fill="#ff4500"/>
<rect x="842" y="315" width="1" height="35" fill="#32cd32"/>
<rect x="841" y="331" width="3" height="2" fill="#32cd32"/>
<rect x="846" y="332" width="1" height="17" fill="#32cd32"/>
<rect x="845" y="334" width="3" height="4" fill="#32cd32"/>
<rect x="850" y="334" width="1" height="12" fill="#32cd32"/>
<rect x="849" y="335" width="3" height="4" fill="#32cd32"/>
<rect x="854" y="326" width="1" height="17" fill="#ff0000"/>
<rect x="853" y="333" width="3" height="6" fill="#ff0000"/>
<rect x="854" y="334" width="1" height="4" fill="#ff4500"/>
<rect x="858" y="326" width="1" height="14" fill="#ff0000"/>
<rect x="857" y="330" width="3" height="3" fill="#ff0000"/>
<rect x="858" y="331" width="1" height="1" fill="#ff4500"/>
<rect x="862" y="308" width="1" height="27" fill="#ff0000"/>
<rect x="861" y="320" width="3" height="9" fill="#ff0000"/>
<rect x="862" y="321" width="1" height="7" fill="#ff4500"/>
<rect x="866" y="313" width="1" height="15" fill="#32cd32"/>
<rect x="865" y="317" width="3" height="6" fill="#32cd32"/>
<rect x="870" y="321" width="1" height="13" fill="#32cd32"/>
<rect x="869" y="323" width="3" height="8" fill="#32cd32"/>
<rect x="874" y="325" width="1" height="11" fill="#32cd32"/>
<rect x="873" y="331" width="3" height="1" fill="#32cd32"/>
<rect x="878" y="328" width="1" height="10" fill="#32cd32"/>
<rect x="877" y="332" width="3" height="1" fill="#32cd32"/>
<rect x="882" y="328" width="1" height="9" fill="#32cd32"/>
<rect x="881" y="334" width="3" height="1" fill="#32cd32"/>
<rect x="886" y="332" width="1" height="10" fill="#ff0000"/>
<rect x="885" y="335" width="3" height="5" fill="#ff0000"/>
<rect x="886" y="336" width="1" height="3" fill="#ff4500"/>
<rect x="890" y="330" width="1" height="12" fill="#32cd32"/>
<rect x="889" y="335" width="3" height="4" fill="#32cd32"/>
<rect x="894" y="335" width="1" height="12" fill="#32cd32"/>
<rect x="893" y="337" width="3" height="6" fill="#32cd32"/>
<rect x="898" y="328" width="1" height="18" fill="#ff0000"/>
<rect x="897" y="333" width="3" height="10" fill="#ff0000"/>
<rect x="898" y="334" width="1" height="8" fill="#ff4500"/>
<rect x="902" y="329" width="1" height="57" fill="#32cd32"/>
<rect x="901" y="333" width="3" height="16" fill="#32cd32"/>
<rect x="906" y="334" width="1" height="33" fill="#ff0000"/>
<rect x="905" y="335" width="3" height="21" fill="#ff0000"/>
<rect x="906" y="336" width="1" height="19" fill="#ff4500"/>
<rect x="910" y="323" width="1" height="19" fill="#ff0000"/>
<rect x="909" y="334" width="3" height="7" fill="#ff0000"/>
<rect x="910" y="335" width="1" height="5" fill="#ff4500"/>
<rect x="914" y="331" width="1" height="16" fill="#32cd32"/>
<rect x="913" y="334" width="3" height="2" fill="#32cd32"/>
<rect x="918" y="303" width="1" height="36" fill="#ff0000"/>
<rect x="917" y="312" width="3" height="25" fill="#ff0000"/>
<rect x="918" y="313" width="1" height="23" fill="#ff4500"/>
<rect x="922" y="310" width="1" height="21" fill="#32cd32"/>
<rect x="921" y="311" width="3" height="13" fill="#32cd32"/>
<rect x="2" y="26" width="225" height="78" fill="#fff"/>
</g>
<g clip-path="url(#c2)">
<rect x="1" y="438" width="3" height="17" fill="#c0c0c0"/>
<rect x="5" y="438" width="3" height="14" fill="#c0c0c0"/>
<rect x="9" y="438" width="3" height="11" fill="#c0c0c0"/>
<rect x="13" y="438" width="3" height="9" fill="#c0c0c0"/>
<rect x="17" y="438" width="3" height="9" fill="#c0c0c0"/>
<rect x="21" y="438" width="3" height="4" fill="#c0c0c0"/>
<rect x="25" y="438" width="3" height="1" fill="#c0c0c0"/>
<rect x="29" y="438" width="3" height="1" fill="#c0c0c0"/>
<rect x="33" y="437" width="3" height="1" fill="#c0c0c0"/>
<rect x="37" y="436" width="3" height="2" fill="#c0c0c0"/>
<rect x="41" y="433" width="3" height="5" fill="#c0c0c0"/>
<rect x="45" y="429" width="3" height="9" fill="#c0c0c0"/>
<rect x="49" y="423" width="3" height="15" fill="#c0c0c0"/>
<rect x="53" y="421" width="3" height="17" fill="#c0c0c0"/>
<rect x="57" y="422" width="3" height="16" fill="#c0c0c0"/>
<rect x="61" y="424" width="3" height="14" fill="#c0c0c0"/>
<rect x="65" y="424" width="3" height="14" fill="#c0c0c0"/>
<rect x="69" y="426" width="3" height="12" fill="#c0c0c0"/>
<rect x="73" y="427" width="3" height="11" fill="#c0c0c0"/>
<rect x="77" y="427" width="3" height="11" fill="#c0c0c0"/>
<rect x="81" y="427" width="3" height="11" fill="#c0c0c0"/>
<rect x="85" y="427" width="3" height="11" fill="#c0c0c0"/>
<rect x="89" y="427" width="3" height="11" fill="#c0c0c0"/>
<rect x="93" y="426" width="3" height="12" fill="#c0c0c0"/>
<rect x="97" y="423" width="3" height="15" fill="#c0c0c0"/>
<rect x="101" y="420" width="3" height="18" fill="#c0c0c0"/>
<rect x="105" y="418" width="3" height="20" fill="#c0c0c0"/>
<rect x="109" y="415" width="3" height="23" fill="#c0c0c0"/>
<rect x="113" y="412" width="3" height="26" fill="#c0c0c0"/>
<rect x="117" y="412" width="3" height="26" fill="#c0c0c0"/>
<rect x="121" y="411" width="3" height="27" fill="#c0c0c0"/>
<rect x="125" y="411" width="3" height="27" fill="#c0c0c0"/>
<rect x="129" y="412" width="3" height="26" fill="#c0c0c0"/>
<rect x="133" y="413" width="3" height="25" fill="#c0c0c0"/>
<rect x="137" y="414" width="3" height="24" fill="#c0c0c0"/>
<rect x="141" y="414" width="3" height="24" fill="#c0c0c0"/>
<rect x="145" y="416" width="3" height="22" fill="#c0c0c0"/>
<rect x="149" y="418" width="3" height="20" fill="#c0c0c0"/>
<rect x="153" y="423" width="3" height="15" fill="#c0c0c0"/>
<rect x="157" y="425" width="3" height="13" fill="#c0c0c0"/>
<rect x="161" y="428" width="3" height="10" fill="#c0c0c0"/>
<rect x="165" y="431" width="3" height="7" fill="#c0c0c0"/>
<rect x="169" y="435" width="3" height="3" fill="#c0c0c0"/>
<rect x="173" y="438" width="3" height="2" fill="#c0c0c0"/>
<rect x="177" y="438" width="3" height="4" fill="#c0c0c0"/>
<rect x="181" y="438" width="3" height="7" fill="#c0c0c0"/>
<rect x="185" y="438" width="3" height="9" fill="#c0c0c0"/>
<rect x="189" y="438" width="3" height="11" fill="#c0c0c0"/>
<rect x="193" y="438" width="3" height="14" fill="#c0c0c0"/>
<rect x="197" y="438" width="3" height="16" fill="#c0c0c0"/>
<rect x="201" y="438" width="3" height="16" fill="#c0c0c0"/>
<rect x="205" y="438" width="3" height="18" fill="#c0c0c0"/>
<rect x="209" y="438" width="3" height="17" fill="#c0c0c0"/>
<rect x="213" y="438" width="3" height="16" fill="#c0c0c0"/>
<rect x="217" y="438" width="3" height="17" fill="#c0c0c0"/>
<rect x="221" y="438" width="3" height="22" fill="#c0c0c0"/>
<rect x="225" y="438" width="3" height="25" fill="#c0c0c0"/>
<rect x="229" y="438" width="3" height="26" fill="#c0c0c0"/>
<rect x="233" y="438" width="3" height="25" fill="#c0c0c0"/>
<rect x="237" y="438" width="3" height="24" fill="#c0c0c0"/>
<rect x="241" y="438" width="3" height="24" fill="#c0c0c0"/>
<rect x="245" y="438" width="3" height="24" fill="#c0c0c0"/>
<rect x="249" y="438" width="3" height="24" fill="#c0c0c0"/>
<rect x="253" y="438" width="3" height="24" fill="#c0c0c0"/>
<rect x="257" y="438" width="3" height="23" fill="#c0c0c0"/>
<rect x="261" y="438" width="3" height="22" fill="#c0c0c0"/>
<rect x="265" y="438" width="3" height="23" fill="#c0c0c0"/>
<rect x="269" y="438" width="3" height="24" fill="#c0c0c0"/>
<rect x="273" y="438" width="3" height="27" fill="#c0c0c0"/>
<rect x="277" y="438" width="3" height="30" fill="#c0c0c0"/>
<rect x="281" y="438" width="3" height="33" fill="#c0c0c0"/>
<rect x="285" y="438" width="3" height="34" fill="#c0c0c0"/>
<rect x="289" y="438" width="3" height="34" fill="#c0c0c0"/>
<rect x="293" y="438" width="3" height="33" fill="#c0c0c0"/>
<rect x="297" y="438" width="3" height="30" fill="#c0c0c0"/>
<rect x="301" y="438" width="3" height="29" fill="#c0c0c0"/>
<rect x="305" y="438" width="3" height="28" fill="#c0c0c0"/>
<rect x="309" y="438" width="3" height="25" fill="#c0c0c0"/>
<rect x="313" y="438" width="3" height="24" fill="#c0c0c0"/>
<rect x="317" y="438" width="3" height="23" fill="#c0c0c0"/>
<rect x="321" y="438" width="3" height="22" fill="#c0c0c0"/>
<rect x="325" y="438" width="3" height="19" fill="#c0c0c0"/>
<rect x="329" y="438" width="3" height="16" fill="#c0c0c0"/>
<rect x="333" y="438" width="3" height="11" fill="#c0c0c0"/>
<rect x="337" y="438" width="3" height="6" fill="#c0c0c0"/>
<rect x="341" y="438" width="3" height="2" fill="#c0c0c0"/>
<rect x="345" y="434" width="3" height="4" fill="#c0c0c0"/>
<rect x="349" y="430" width="3" height="8" fill="#c0c0c0"/>
<rect x="353" y="426" width="3" height="12" fill="#c0c0c0"/>
<rect x="357" y="424" width="3" height="14" fill="#c0c0c0"/>
<rect x="361" y="424" width="3" height="14" fill="#c0c0c0"/>
<rect x="365" y="423" width="3" height="15" fill="#c0c0c0"/>
<rect x="369" y="423" width="3" height="15" fill="#c0c0c0"/>
<rect x="373" y="423" width="3" height="15" fill="#c0c0c0"/>
<rect x="377" y="422" width="3" height="16" fill="#c0c0c0"/>
<rect x="381" y="422" width="3" height="16" fill="#c0c0c0"/>
<rect x="385" y="422" width="3" height="16" fill="#c0c0c0"/>
<rect x="389" y="422" width="3" height="16" fill="#c0c0c0"/>
<rect x="393" y="422" width="3" height="16" fill="#c0c0c0"/>
<rect x="397" y="421" width="3" height="17" fill="#c0c0c0"/>
<rect x="401" y="421" width="3" height="17" fill="#c0c0c0"/>
<rect x="405" y="422" width="3" height="16" fill="#c0c0c0"/>
<rect x="409" y="422" width="3" height="16" fill="#c0c0c0"/>
<rect x="413" y="424" width="3" height="14" fill="#c0c0c0"/>
<rect x="417" y="426" width="3" height="12" fill="#c0c0c0"/>
<rect x="421" y="426" width="3" height="12" fill="#c0c0c0"/>
<rect x="425" y="425" width="3" height="13" fill="#c0c0c0"/>
<rect x="429" y="425" width="3" height="13" fill="#c0c0c0"/>
<rect x="433" y="427" width="3" height="11" fill="#c0c0c0"/>
<rect x="437" y="428" width="3" height="10" fill="#c0c0c0"/>
<rect x="441" y="428" width="3" height="10" fill="#c0c0c0"/>
<rect x="445" y="429" width="3" height="9" fill="#c0c0c0"/>
<rect x="449" y="425" width="3" height="13" fill="#c0c0c0"/>
<rect x="453" y="425" width="3" height="13" fill="#c0c0c0"/>
<rect x="457" y="428" width="3" height="10" fill="#c0c0c0"/>
<rect x="461" y="430" width="3" height="8" fill="#c0c0c0"/>
<rect x="465" y="432" width="3" height="6" fill="#c0c0c0"/>
<rect x="469" y="434" width="3" height="4" fill="#c0c0c0"/>
<rect x="473" y="435" width="3" height="3" fill="#c0c0c0"/>
<rect x="477" y="436" width="3" height="2" fill="#c0c0c0"/>
<rect x="481" y="436" width="3" height="2" fill="#c0c0c0"/>
<rect x="485" y="435" width="3" height="3" fill="#c0c0c0"/>
<rect x="489" y="434" width="3" height="4" fill="#c0c0c0"/>
<rect x="493" y="434" width="3" height="4" fill="#c0c0c0"/>
<rect x="497" y="434" width="3" height="4" fill="#c0c0c0"/>
<rect x="501" y="435" width="3" height="3" fill="#c0c0c0"/>
<rect x="505" y="434" width="3" height="4" fill="#c0c0c0"/>
<rect x="509" y="433" width="3" height="5" fill="#c0c0c0"/>
<rect x="513" y="433" width="3" height="5" fill="#c0c0c0"/>
<rect x="517" y="431" width="3" height="7" fill="#c0c0c0"/>
<rect x="521" y="430" width="3" height="8" fill="#c0c0c0"/>
<rect x="525" y="432" width="3" height="6" fill="#c0c0c0"/>
<rect x="529" y="434" width="3" height="4" fill="#c0c0c0"/>
<rect x="533" y="435" width="3" height="3" fill="#c0c0c0"/>
<rect x="537" y="435" width="3" height="3" fill="#c0c0c0"/>
<rect x="541" y="437" width="3" height="1" fill="#c0c0c0"/>
<rect x="545" y="438" width="3" height="1" fill="#c0c0c0"/>
<rect x="549" y="438" width="3" height="3" fill="#c0c0c0"/>
<rect x="553" y="438" width="3" height="5" fill="#c0c0c0"/>
<rect x="557" y="438" width="3" height="6" fill="#c0c0c0"/>
<rect x="561" y="438" width="3" height="8" fill="#c0c0c0"/>
<rect x="565" y="438" width="3" height="9" fill="#c0c0c0"/>
<rect x="569" y="438" width="3" height="8" fill="#c0c0c0"/>
<rect x="573" y="438" width="3" height="7" fill="#c0c0c0"/>
<rect x="577" y="438" width="3" height="8" fill="#c0c0c0"/>
<rect x="581" y="438" width="3" height="9" fill="#c0c0c0"/>
<rect x="585" y="438" width="3" height="10" fill="#c0c0c0"/>
<rect x="589" y="438" width="3" height="10" fill="#c0c0c0"/>
<rect x="593" y="438" width="3" height="12" fill="#c0c0c0"/>
<rect x="597" y="438" width="3" height="11" fill="#c0c0c0"/>
<rect x="601" y="438" width="3" height="8" fill="#c0c0c0"/>
<rect x="605" y="438" width="3" height="5" fill="#c0c0c0"/>
<rect x="609" y="438" width="3" height="2" fill="#c0c0c0"/>
<rect x="613" y="438" width="3" height="1" fill="#c0c0c0"/>
<rect x="617" y="438" width="3" height="1" fill="#c0c0c0"/>
<rect x="621" y="437" width="3" height="1" fill="#c0c0c0"/>
<rect x="625" y="438" width="3" height="1" fill="#c0c0c0"/>
<rect x="629" y="437" width="3" height="1" fill="#c0c0c0"/>
<rect x="633" y="436" width="3" height="2" fill="#c0c0c0"/>
<rect x="637" y="437" width="3" height="1" fill="#c0c0c0"/>
<rect x="641" y="438" width="3" height="3" fill="#c0c0c0"/>
<rect x="645" y="438" width="3" height="4" fill="#c0c0c0"/>
<rect x="649" y="438" width="3" height="4" fill="#c0c0c0"/>
<rect x="653" y="438" width="3" height="4" fill="#c0c0c0"/>
<rect x="657" y="438" width="3" height="3" fill="#c0c0c0"/>
<rect x="661" y="438" width="3" height="5" fill="#c0c0c0"/>
<rect x="665" y="438" width="3" height="4" fill="#c0c0c0"/>
<rect x="669" y="438" width="3" height="3" fill="#c0c0c0"/>
<rect x="673" y="438" width="3" height="6" fill="#c0c0c0"/>
<rect x="677" y="438" width="3" height="7" fill="#c0c0c0"/>
<rect x="681" y="438" width="3" height="7" fill="#c0c0c0"/>
<rect x="685" y="438" width="3" height="9" fill="#c0c0c0"/>
<rect x="689" y="438" width="3" height="15" fill="#c0c0c0"/>
<rect x="693" y="438" width="3" height="17" fill="#c0c0c0"/>
<rect x="697" y="438" width="3" height="19" fill="#c0c0c0"/>
<rect x="701" y="438" width="3" height="21" fill="#c0c0c0"/>
<rect x="705" y="438" width="3" height="23" fill="#c0c0c0"/>
<rect x="709" y="438" width="3" height="24" fill="#c0c0c0"/>
<rect x="713" y="438" width="3" height="23" fill="#c0c0c0"/>
<rect x="717" y="438" width="3" height="23" fill="#c0c0c0"/>
<rect x="721" y="438" width="3" height="20" fill="#c0c0c0"/>
<rect x="725" y="438" width="3" height="19" fill="#c0c0c0"/>
<rect x="729" y="438" width="3" height="19" fill="#c0c0c0"/>
<rect x="733" y="438" width="3" height="18" fill="#c0c0c0"/>
<rect x="737" y="438" width="3" height="17" fill="#c0c0c0"/>
<rect x="741" y="438" width="3" height="16" fill="#c0c0c0"/>
<rect x="745" y="438" width="3" height="16" fill="#c0c0c0"/>
<rect x="749" y="438" width="3" height="16" fill="#c0c0c0"/>
<rect x="753" y="438" width="3" height="14" fill="#c0c0c0"/>
<rect x="757" y="438" width="3" height="14" fill="#c0c0c0"/>
<rect x="761" y="438" width="3" height="14" fill="#c0c0c0"/>
<rect x="765" y="438" width="3" height="14" fill="#c0c0c0"/>
<rect x="769" y="438" width="3" height="14" fill="#c0c0c0"/>
<rect x="773" y="438" width="3" height="14" fill="#c0c0c0"/>
<rect x="777" y="438" width="3" height="13" fill="#c0c0c0"/>
<rect x="781" y="438" width="3" height="12" fill="#c0c0c0"/>
<rect x="785" y="438" width="3" height="12" fill="#c0c0c0"/>
<rect x="789" y="438" width="3" height="10" fill="#c0c0c0"/>
<rect x="793" y="438" width="3" height="9" fill="#c0c0c0"/>
<rect x="797" y="438" width="3" height="9" fill="#c0c0c0"/>
<rect x="801" y="438" width="3" height="7" fill="#c0c0c0"/>
<rect x="805" y="438" width="3" height="7" fill="#c0c0c0"/>
<rect x="809" y="438" width="3" height="9" fill="#c0c0c0"/>
<rect x="813" y="438" width="3" height="10" fill="#c0c0c0"/>
<rect x="817" y="438" width="3" height="10" fill="#c0c0c0"/>
<rect x="821" y="438" width="3" height="10" fill="#c0c0c0"/>
<rect x="825" y="438" width="3" height="10" fill="#c0c0c0"/>
<rect x="829" y="438" width="3" height="11" fill="#c0c0c0"/>
<rect x="833" y="438" width="3" height="13" fill="#c0c0c0"/>
<rect x="837" y="438" width="3" height="12" fill="#c0c0c0"/>
<rect x="841" y="438" width="3" height="11" fill="#c0c0c0"/>
<rect x="845" y="438" width="3" height="10" fill="#c0c0c0"/>
<rect x="849" y="438" width="3" height="9" fill="#c0c0c0"/>
<rect x="853" y="438" width="3" height="9" fill="#c0c0c0"/>
<rect x="857" y="438" width="3" height="8" fill="#c0c0c0"/>
<rect x="861" y="438" width="3" height="6" fill="#c0c0c0"/>
<rect x="865" y="438" width="3" height="5" fill="#c0c0c0"/>
<rect x="869" y="438" width="3" height="5" fill="#c0c0c0"/>
<rect x="873" y="438" width="3" height="4" fill="#c0c0c0"/>
<rect x="877" y="438" width="3" height="4" fill="#c0c0c0"/>
<rect x="881" y="438" width="3" height="4" fill="#c0c0c0"/>
<rect x="885" y="438" width="3" height="4" fill="#c0c0c0"/>
<rect x="889" y="438" width="3" height="4" fill="#c0c0c0"/>
<rect x="893" y="438" width="3" height="4" fill="#c0c0c0"/>
<rect x="897" y="438" width="3" height="4" fill="#c0c0c0"/>
<rect x="901" y="438" width="3" height="5" fill="#c0c0c0"/>
<rect x="905" y="438" width="3" height="5" fill="#c0c0c0"/>
<rect x="909" y="438" width="3" height="4" fill="#c0c0c0"/>
<rect x="913" y="438" width="3" height="3" fill="#c0c0c0"/>
<rect x="917" y="438" width="3" height="1" fill="#c0c0c0"/>
<rect x="921" y="438" width="3" height="1" fill="#c0c0c0"/>
<polyline points="1.7,457.7 10.0,455.7 18.3,453.6 26.6,448.3 36.6,442.4 46.6,437.9 56.6,430.8 66.6,427.0 76.5,425.0 89.9,425.5 103.2,425.0 113.1,421.6 123.1,416.6 133.1,415.0 143.1,414.6 153.1,415.3 159.7,417.5 169.7,423.3 179.7,430.0 189.7,437.9 196.7,442.9 203.3,447.1 210.0,449.9 220.0,452.7 229.9,456.6 239.9,458.7 253.2,461.2 273.2,461.6 283.2,463.6 293.2,466.1 303.1,468.2 311.5,467.9 323.1,464.9 333.1,459.9 343.1,453.6 351.4,446.6 359.7,438.3 369.7,430.0 379.7,425.0 390.0,423.3 395.0,423.3 398.3,422.1 416.6,422.5 419.9,423.6 436.6,425.0 446.6,426.6 463.2,427.5 473.2,430.0 486.5,431.9 494.8,434.4 506.5,434.9 519.8,434.1 523.1,433.3 543.1,433.6 549.7,435.3 559.7,437.9 566.4,439.9 574.7,442.4 578.3,443.6 586.6,445.3 595.0,446.6 606.6,446.6 616.6,443.6 626.6,441.1 636.6,438.6 651.5,438.6 663.2,440.4 673.2,441.3 684.8,442.8 693.1,444.6 703.1,449.1 713.1,454.1 723.1,458.6 739.7,458.6 749.7,455.7 759.7,453.6 775.0,452.4 790.0,449.9 803.3,447.8 813.2,446.3 831.5,446.3 834.9,447.4 841.5,448.6 851.5,448.6 863.2,447.4 873.1,444.6 884.8,442.4 896.4,441.3 921.4,441.3" fill="none" stroke="#ff0000" stroke-width="1"/>
</g>
<g clip-path="url(#c3)">
<line x1="2" y1="499.5" x2="1164" y2="499.5" stroke="#c0c0c0" stroke-width="1" stroke-dasharray="3,3" stroke-dashoffset="-1"/>
<line x1="2" y1="527.5" x2="1164" y2="527.5" stroke="#c0c0c0" stroke-width="1" stroke-dasharray="3,3" stroke-dashoffset="-1"/>
<polyline points="2.5,513.3 11.6,512.4 18.3,514.9 22.5,507.4 30.8,513.3 34.9,511.1 42.4,509.4 50.7,501.6 54.9,507.8 62.4,513.3 66.6,511.3 74.9,511.3 78.5,513.3 82.7,510.4 90.7,510.3 94.8,507.4 102.3,504.5 106.5,505.4 110.6,500.3 114.8,501.6 119.0,504.5 123.1,503.6 130.6,510.3 136.4,507.8 142.3,507.4 146.4,510.3 150.6,511.6 158.9,515.4 162.2,514.4 166.4,519.1 174.7,522.4 179.7,521.6 186.4,525.2 190.5,522.8 198.3,526.6 202.5,522.8 206.6,523.6 210.8,519.1 214.1,518.3 218.3,522.8 222.4,530.2 226.6,529.1 230.8,526.6 234.6,519.4 239.1,520.3 243.2,522.8 246.6,521.6 250.2,524.4 254.9,520.3 258.2,521.3 261.9,520.3 266.5,524.4 270.7,524.4 274.9,528.2 279.0,529.4 282.7,531.6 286.5,529.1 290.7,525.2 294.5,524.1 299.0,520.3 302.3,521.3 306.0,522.4 310.6,518.3 314.8,520.3 318.1,521.6 322.3,519.1 326.4,515.8 331.1,515.3 334.8,508.3 337.3,506.1 341.4,504.5 345.6,503.6 349.7,501.6 353.9,501.3 358.1,504.1 362.2,507.4 366.4,507.4 370.0,506.1 373.9,505.4 378.0,504.5 381.3,505.0 386.3,508.3 390.8,504.5 394.6,506.6 398.6,502.5 402.8,505.4 407.0,507.4 410.4,506.1 414.6,512.4 418.3,512.4 422.4,509.4 426.6,504.5 430.7,509.1 434.6,513.6 438.2,511.3 442.4,511.3 446.6,509.1 450.7,501.6 454.9,509.4 459.0,516.6 462.4,515.4 474.8,515.4 478.5,516.6 482.8,511.3 486.5,510.3 490.6,510.3 494.8,512.4 499.0,512.4 502.3,513.6 506.5,513.3 510.6,508.3 514.4,510.4 518.6,507.4 522.3,507.4 526.4,513.6 530.6,516.3 534.7,516.3 538.9,512.4 542.7,518.3 546.4,516.3 550.5,519.1 554.4,520.3 558.4,520.3 562.5,523.6 566.4,519.6 570.8,515.3 575.0,516.3 582.5,520.3 588.3,520.3 594.5,524.4 598.6,515.3 602.4,509.9 609.9,507.1 614.1,511.1 618.3,513.3 624.1,513.3 626.6,514.4 634.1,509.1 638.2,517.4 642.4,521.6 646.2,516.3 650.7,515.8 654.5,514.1 662.3,517.4 667.3,513.3 670.7,514.4 674.5,520.3 678.2,518.3 684.8,518.6 690.6,528.6 694.0,524.9 698.1,523.3 703.1,525.2 708.1,525.2 711.1,526.6 714.8,521.6 718.1,522.4 722.7,517.4 726.4,519.1 730.6,518.3 734.7,519.4 738.9,518.3 743.0,518.3 747.2,520.3 750.5,520.3 754.7,516.1 758.9,518.3 763.0,520.3 766.3,520.3 770.0,518.3 774.6,521.6 778.3,520.3 782.8,516.1 786.6,517.4 790.4,516.1 794.6,514.1 798.3,516.3 802.4,513.3 806.6,517.4 810.7,522.8 814.9,521.3 822.4,519.4 826.6,519.4 830.7,522.4 834.4,527.4 838.5,515.3 843.2,515.3 849.9,517.4 854.8,515.3 858.2,514.4 862.3,512.4 866.5,513.3 870.6,515.3 876.5,515.4 879.0,516.3 884.0,516.3 886.5,517.4 891.4,517.8 894.4,519.6 898.4,515.3 902.6,520.8 906.8,516.1 910.6,515.3 914.4,515.3 918.1,507.1 921.7,510.4" fill="none" stroke="#1e90ff" stroke-width="1"/>
</g>
<rect x="1" y="25" width="1164" height="1" fill="#000"/>
<rect x="1" y="404" width="1164" height="1" fill="#000"/>
<rect x="1" y="25" width="1" height="380" fill="#000"/>
<rect x="1164" y="25" width="1" height="380" fill="#000"/>
<rect x="1" y="406" width="1164" height="1" fill="#000"/>
<rect x="1" y="475" width="1164" height="1" fill="#000"/>
<rect x="1" y="406" width="1" height="70" fill="#000"/>
<rect x="1164" y="406" width="1" height="70" fill="#000"/>
<rect x="1" y="477" width="1164" height="1" fill="#000"/>
<rect x="1" y="549" width="1164" height="1" fill="#000"/>
<rect x="1" y="477" width="1" height="73" fill="#000"/>
<rect x="1164" y="477" width="1" height="73" fill="#000"/>
<rect x="1164" y="25" width="1" height="525" fill="#000"/>
<rect x="1" y="263" width="6" height="6" fill="#00ff00"/>
<rect x="3" y="265" width="2" height="2" fill="#fff"/>
<rect x="1158" y="263" width="6" height="6" fill="#00ff00"/>
<rect x="1160" y="265" width="2" height="2" fill="#fff"/>
<rect x="1" y="336" width="6" height="6" fill="#0000ff"/>
<rect x="3" y="338" width="2" height="2" fill="#fff"/>
<rect x="1158" y="336" width="6" height="6" fill="#0000ff"/>
<rect x="1160" y="338" width="2" height="2" fill="#fff"/>
<rect x="1" y="391" width="6" height="6" fill="#0000ff"/>
<rect x="3" y="393" width="2" height="2" fill="#fff"/>
<rect x="1158" y="391" width="6" height="6" fill="#0000ff"/>
<rect x="1160" y="393" width="2" height="2" fill="#fff"/>
<rect x="1165" y="38" width="2" height="1" fill="#000"/>
<text transform="translate(1170,42) scale(0.9355,1)" fill="#000" font-size="9.8" stroke="#000" stroke-width="0.3">6.59120</text>
<rect x="1165" y="71" width="2" height="1" fill="#000"/>
<text transform="translate(1170,75) scale(0.9355,1)" fill="#000" font-size="9.8" stroke="#000" stroke-width="0.3">6.56670</text>
<rect x="1165" y="104" width="2" height="1" fill="#000"/>
<text transform="translate(1170,108) scale(0.9355,1)" fill="#000" font-size="9.8" stroke="#000" stroke-width="0.3">6.54290</text>
<rect x="1165" y="137" width="2" height="1" fill="#000"/>
<text transform="translate(1170,141) scale(0.9355,1)" fill="#000" font-size="9.8" stroke="#000" stroke-width="0.3">6.51840</text>
<rect x="1165" y="170" width="2" height="1" fill="#000"/>
<text transform="translate(1170,174) scale(0.9355,1)" fill="#000" font-size="9.8" stroke="#000" stroke-width="0.3">6.49460</text>
<rect x="1165" y="203" width="2" height="1" fill="#000"/>
<text transform="translate(1170,207) scale(0.9355,1)" fill="#000" font-size="9.8" stroke="#000" stroke-width="0.3">6.47010</text>
<rect x="1165" y="236" width="2" height="1" fill="#000"/>
<text transform="translate(1170,240) scale(0.9355,1)" fill="#000" font-size="9.8" stroke="#000" stroke-width="0.3">6.44560</text>
<rect x="1165" y="269" width="2" height="1" fill="#000"/>
<text transform="translate(1170,273) scale(0.9355,1)" fill="#000" font-size="9.8" stroke="#000" stroke-width="0.3">6.42180</text>
<rect x="1165" y="302" width="2" height="1" fill="#000"/>
<text transform="translate(1170,306) scale(0.9355,1)" fill="#000" font-size="9.8" stroke="#000" stroke-width="0.3">6.39730</text>
<rect x="1165" y="335" width="2" height="1" fill="#000"/>
<text transform="translate(1170,339) scale(0.9355,1)" fill="#000" font-size="9.8" stroke="#000" stroke-width="0.3">6.37350</text>
<rect x="1165" y="368" width="2" height="1" fill="#000"/>
<text transform="translate(1170,372) scale(0.9355,1)" fill="#000" font-size="9.8" stroke="#000" stroke-width="0.3">6.34900</text>
<rect x="1165" y="401" width="2" height="1" fill="#000"/>
<text transform="translate(1170,405) scale(0.9355,1)" fill="#000" font-size="9.8" stroke="#000" stroke-width="0.3">6.32520</text>
<rect x="1165" y="408" width="2" height="1" fill="#000"/>
<text transform="translate(1168,417) scale(0.9355,1)" fill="#000" font-size="9.8" stroke="#000" stroke-width="0.3">0.02607</text>
<rect x="1165" y="438" width="2" height="1" fill="#000"/>
<text transform="translate(1168,442) scale(0.9355,1)" fill="#000" font-size="9.8" stroke="#000" stroke-width="0.3">0.00</text>
<rect x="1165" y="473" width="2" height="1" fill="#000"/>
<text transform="translate(1166,472) scale(0.9355,1)" fill="#000" font-size="9.8" stroke="#000" stroke-width="0.3">-0.03187</text>
<rect x="1165" y="480" width="2" height="1" fill="#000"/>
<text transform="translate(1167.5,488) scale(0.9355,1)" fill="#000" font-size="9.8" stroke="#000" stroke-width="0.3">100</text>
<rect x="1165" y="499" width="2" height="1" fill="#000"/>
<text transform="translate(1167.5,503) scale(0.9355,1)" fill="#000" font-size="9.8" stroke="#000" stroke-width="0.3">70</text>
<rect x="1165" y="527" width="2" height="1" fill="#000"/>
<text transform="translate(1167.5,531) scale(0.9355,1)" fill="#000" font-size="9.8" stroke="#000" stroke-width="0.3">30</text>
<rect x="1165" y="548" width="2" height="1" fill="#000"/>
<text transform="translate(1167.5,546) scale(0.9355,1)" fill="#000" font-size="9.8" stroke="#000" stroke-width="0.3">0</text>
<rect x="1166" y="127" width="36" height="11" fill="#ff0000"/>
<text transform="translate(1170,136) scale(0.9355,1)" fill="#fff" font-size="9.8" stroke="#fff" stroke-width="0.3">6.52126</text>
<rect x="1166" y="197" width="36" height="11" fill="#ff0000"/>
<text transform="translate(1170,206) scale(0.9355,1)" fill="#fff" font-size="9.8" stroke="#fff" stroke-width="0.3">6.47044</text>
<rect x="1166" y="260" width="36" height="11" fill="#00ff00"/>
<text transform="translate(1170,269) scale(0.9355,1)" fill="#fff" font-size="9.8" stroke="#fff" stroke-width="0.3">6.42424</text>
<rect x="1166" y="318" width="36" height="11" fill="#000"/>
<text transform="translate(1170,327) scale(0.9355,1)" fill="#fff" font-size="9.8" stroke="#fff" stroke-width="0.3">6.38205</text>
<rect x="1166" y="333" width="36" height="11" fill="#0000ff"/>
<text transform="translate(1170,342) scale(0.9355,1)" fill="#fff" font-size="9.8" stroke="#fff" stroke-width="0.3">6.37063</text>
<rect x="1166" y="388" width="36" height="11" fill="#0000ff"/>
<text transform="translate(1170,397) scale(0.9355,1)" fill="#fff" font-size="9.8" stroke="#fff" stroke-width="0.3">6.33041</text>
<rect x="2" y="549" width="1" height="4" fill="#000"/>
<text transform="translate(1.5,561.6) scale(0.9355,1)" fill="#000" font-size="9.8" stroke="#000" stroke-width="0.3">18 Feb 2021</text>
<rect x="66" y="549" width="1" height="4" fill="#000"/>
<text transform="translate(65.5,561.6) scale(0.9355,1)" fill="#000" font-size="9.8" stroke="#000" stroke-width="0.3">12 Mar 2021</text>
<rect x="130" y="549" width="1" height="4" fill="#000"/>
<text transform="translate(129.5,561.6) scale(0.9355,1)" fill="#000" font-size="9.8" stroke="#000" stroke-width="0.3">6 Apr 2021</text>
<rect x="194" y="549" width="1" height="4" fill="#000"/>
<text transform="translate(193.5,561.6) scale(0.9355,1)" fill="#000" font-size="9.8" stroke="#000" stroke-width="0.3">28 Apr 2021</text>
<rect x="258" y="549" width="1" height="4" fill="#000"/>
<text transform="translate(257.5,561.6) scale(0.9355,1)" fill="#000" font-size="9.8" stroke="#000" stroke-width="0.3">20 May 2021</text>
<rect x="322" y="549" width="1" height="4" fill="#000"/>
<text transform="translate(321.5,561.6) scale(0.9355,1)" fill="#000" font-size="9.8" stroke="#000" stroke-width="0.3">11 Jun 2021</text>
<rect x="386" y="549" width="1" height="4" fill="#000"/>
<text transform="translate(385.5,561.6) scale(0.9355,1)" fill="#000" font-size="9.8" stroke="#000" stroke-width="0.3">5 Jul 2021</text>
<rect x="450" y="549" width="1" height="4" fill="#000"/>
<text transform="translate(449.5,561.6) scale(0.9355,1)" fill="#000" font-size="9.8" stroke="#000" stroke-width="0.3">27 Jul 2021</text>
<rect x="514" y="549" width="1" height="4" fill="#000"/>
<text transform="translate(513.5,561.6) scale(0.9355,1)" fill="#000" font-size="9.8" stroke="#000" stroke-width="0.3">18 Aug 2021</text>
<rect x="578" y="549" width="1" height="4" fill="#000"/>
<text transform="translate(577.5,561.6) scale(0.9355,1)" fill="#000" font-size="9.8" stroke="#000" stroke-width="0.3">9 Sep 2021</text>
<rect x="642" y="549" width="1" height="4" fill="#000"/>
<text transform="translate(641.5,561.6) scale(0.9355,1)" fill="#000" font-size="9.8" stroke="#000" stroke-width="0.3">1 Oct 2021</text>
<rect x="706" y="549" width="1" height="4" fill="#000"/>
<text transform="translate(705.5,561.6) scale(0.9355,1)" fill="#000" font-size="9.8" stroke="#000" stroke-width="0.3">25 Oct 2021</text>
<rect x="770" y="549" width="1" height="4" fill="#000"/>
<text transform="translate(769.5,561.6) scale(0.9355,1)" fill="#000" font-size="9.8" stroke="#000" stroke-width="0.3">16 Nov 2021</text>
<rect x="834" y="549" width="1" height="4" fill="#000"/>
<text transform="translate(833.5,561.6) scale(0.9355,1)" fill="#000" font-size="9.8" stroke="#000" stroke-width="0.3">8 Dec 2021</text>
<rect x="898" y="549" width="1" height="4" fill="#000"/>
<text transform="translate(897.5,561.6) scale(0.9355,1)" fill="#000" font-size="9.8" stroke="#000" stroke-width="0.3">30 Dec 2021</text>
<text transform="translate(5.8,419.2) scale(0.955,1)" fill="#000" font-size="9.8" stroke="#000" stroke-width="0.3">MACD(12,26,9) -0.000557 -0.002759</text>
<text transform="translate(5.8,490.2) scale(0.94,1)" fill="#000" font-size="9.8" stroke="#000" stroke-width="0.3">RSI(14) 53.3373</text>
<text transform="translate(17.5,37) scale(0.98,1)" fill="#000" font-size="9.8" stroke="#000" stroke-width="0.3">USDCNH-,Daily</text>
<text transform="translate(92.3,37) scale(0.94,1)" fill="#000" font-size="9.8" stroke="#000" stroke-width="0.3">6.39058 6.39185 6.37726 6.38205</text>
<path d="M4.6 38 L8.5 33.4 L12.4 38 Z" fill="#000" shape-rendering="geometricPrecision"/>
<rect x="5" y="45" width="52" height="24" fill="url(#g1)"/>
<rect x="172" y="45" width="52" height="24" fill="url(#g1)"/>
<rect x="5" y="69" width="109" height="33" fill="url(#g2)"/>
<rect x="116" y="69" width="108" height="33" fill="url(#g2)"/>
<rect x="114" y="69" width="2" height="33" fill="#fdf0f0"/>
<rect x="5" y="45" width="1" height="57" fill="#c00000"/>
<rect x="5" y="45" width="52" height="1" fill="#c00000"/>
<rect x="9" y="68" width="44" height="1" fill="#8b0000"/>
<rect x="176" y="68" width="44" height="1" fill="#8b0000"/>
<rect x="9" y="69" width="44" height="1" fill="#ee6a6a"/>
<rect x="176" y="69" width="44" height="1" fill="#ee6a6a"/>
<rect x="56" y="45" width="1" height="24" fill="#c40808"/>
<rect x="57" y="69" width="57" height="1" fill="#c40808"/>
<rect x="116" y="69" width="56" height="1" fill="#c40808"/>
<rect x="172" y="45" width="1" height="24" fill="#c40808"/>
<rect x="223" y="45" width="1" height="57" fill="#b80000"/>
<rect x="5" y="101" width="109" height="1" fill="#980000"/>
<rect x="116" y="101" width="108" height="1" fill="#980000"/>
<rect x="59" y="45" width="111" height="22" fill="#b4b4bc"/>
<rect x="60" y="46" width="109" height="20" fill="#fff"/>
<rect x="61" y="47" width="19" height="18" fill="url(#g3)"/>
<rect x="150" y="47" width="18" height="18" fill="url(#g3)"/>
<rect x="80" y="46" width="1" height="20" fill="#c8c8d0"/>
<rect x="149" y="46" width="1" height="20" fill="#c8c8d0"/>
<path d="M67.2 54.6 L72.2 54.6 L69.7 57.5 Z" fill="#5a6cc8" shape-rendering="geometricPrecision"/>
<path d="M155.9 57.4 L161.1 57.4 L158.5 54.3 Z" fill="#5a6cc8" shape-rendering="geometricPrecision"/>
<text transform="translate(17.4,60.7) scale(0.86,1)" fill="#fff" font-size="12">SELL</text>
<text transform="translate(185.7,60.7) scale(0.93,1)" fill="#fff" font-size="12">BUY</text>
<text transform="translate(121.4,61) scale(0.93,1)" fill="#000" font-size="13">3.00</text>
<text transform="translate(25.3,96.6) scale(1.0,1)" fill="#fff" font-size="12" font-weight="bold">6.38</text>
<text transform="translate(135.3,96.6) scale(1.0,1)" fill="#fff" font-size="12" font-weight="bold">6.38</text>
<text transform="translate(52.6,97.2) scale(0.92,1)" fill="#fff" font-size="35" stroke="#c51c1c" stroke-width="0.7">20</text>
<text transform="translate(162.0,97.2) scale(0.92,1)" fill="#fff" font-size="35" stroke="#c51c1c" stroke-width="0.7">41</text>
<text transform="translate(92.6,80.8) scale(0.9,1)" fill="#fff" font-size="11.5" font-weight="bold">5</text>
<text transform="translate(203.1,80.8) scale(0.9,1)" fill="#fff" font-size="11.5" font-weight="bold">0</text>
<rect x="0" y="570" width="1202" height="1" fill="#e6e6e6"/>
<rect x="0" y="572" width="1202" height="1" fill="#000"/>
<rect x="0" y="573" width="1202" height="19" fill="#f0f0f0"/>
<rect x="0" y="592" width="1202" height="1" fill="#fcfcfc"/>
<rect x="0" y="593" width="1202" height="3" fill="#f0f0f0"/>
<rect x="0" y="596" width="1202" height="1" fill="#a0a0a0"/>
<rect x="523" y="572" width="112" height="19" fill="#000"/>
<rect x="524" y="572" width="110" height="18" fill="#fff"/>
<rect x="523" y="591" width="112" height="1" fill="#fafafa"/>
<text transform="translate(14.4,587) scale(1.0,1)" fill="#7a7a7a" font-size="12.3" stroke="#7a7a7a" stroke-width="0.2">USDX,Weekly</text>
<text transform="translate(114.3,587) scale(1.0,1)" fill="#7a7a7a" font-size="12.3" stroke="#7a7a7a" stroke-width="0.2">EURUSD-,Daily</text>
<text transform="translate(221.2,587) scale(1.0,1)" fill="#7a7a7a" font-size="12.3" stroke="#7a7a7a" stroke-width="0.2">AUDUSD-,Daily</text>
<text transform="translate(331.7,587) scale(1.0,1)" fill="#7a7a7a" font-size="12.3" stroke="#7a7a7a" stroke-width="0.2">USDCHF-,H4</text>
<text transform="translate(427,587) scale(1.0,1)" fill="#7a7a7a" font-size="12.3" stroke="#7a7a7a" stroke-width="0.2">USDCAD-,Daily</text>
<text transform="translate(535.5,587) scale(1.0,1)" fill="#000" font-size="12.3" stroke="#000" stroke-width="0.2">USDCNH-,Daily</text>
<text transform="translate(646,587) scale(1.0,1)" fill="#7a7a7a" font-size="12.3" stroke="#7a7a7a" stroke-width="0.2">XAUUSD-,H1</text>
<text transform="translate(742.5,587) scale(1.0,1)" fill="#7a7a7a" font-size="12.3" stroke="#7a7a7a" stroke-width="0.2">UKOil-,Daily</text>
<text transform="translate(835,587) scale(1.0,1)" fill="#7a7a7a" font-size="12.3" stroke="#7a7a7a" stroke-width="0.2">DJ30-,Daily</text>
<text transform="translate(922,587) scale(1.0,1)" fill="#7a7a7a" font-size="12.3" stroke="#7a7a7a" stroke-width="0.2">UK100-,H1</text>
<rect x="103" y="575" width="1" height="14" fill="#6e6e6e"/>
<rect x="211" y="575" width="1" height="14" fill="#6e6e6e"/>
<rect x="320" y="575" width="1" height="14" fill="#6e6e6e"/>
<rect x="415" y="575" width="1" height="14" fill="#6e6e6e"/>
<rect x="731" y="575" width="1" height="14" fill="#6e6e6e"/>
<rect x="824" y="575" width="1" height="14" fill="#6e6e6e"/>
<rect x="911" y="575" width="1" height="14" fill="#6e6e6e"/>
<rect x="996" y="575" width="1" height="14" fill="#6e6e6e"/>
<path d="M1183 578 L1183 584.5 L1179.5 581.2 Z" fill="#8c8c8c" shape-rendering="geometricPrecision"/>
<path d="M1199 578 L1199 584.5 L1202.5 581.2 Z" fill="#8c8c8c" shape-rendering="geometricPrecision"/>
</svg>
</body></html>
